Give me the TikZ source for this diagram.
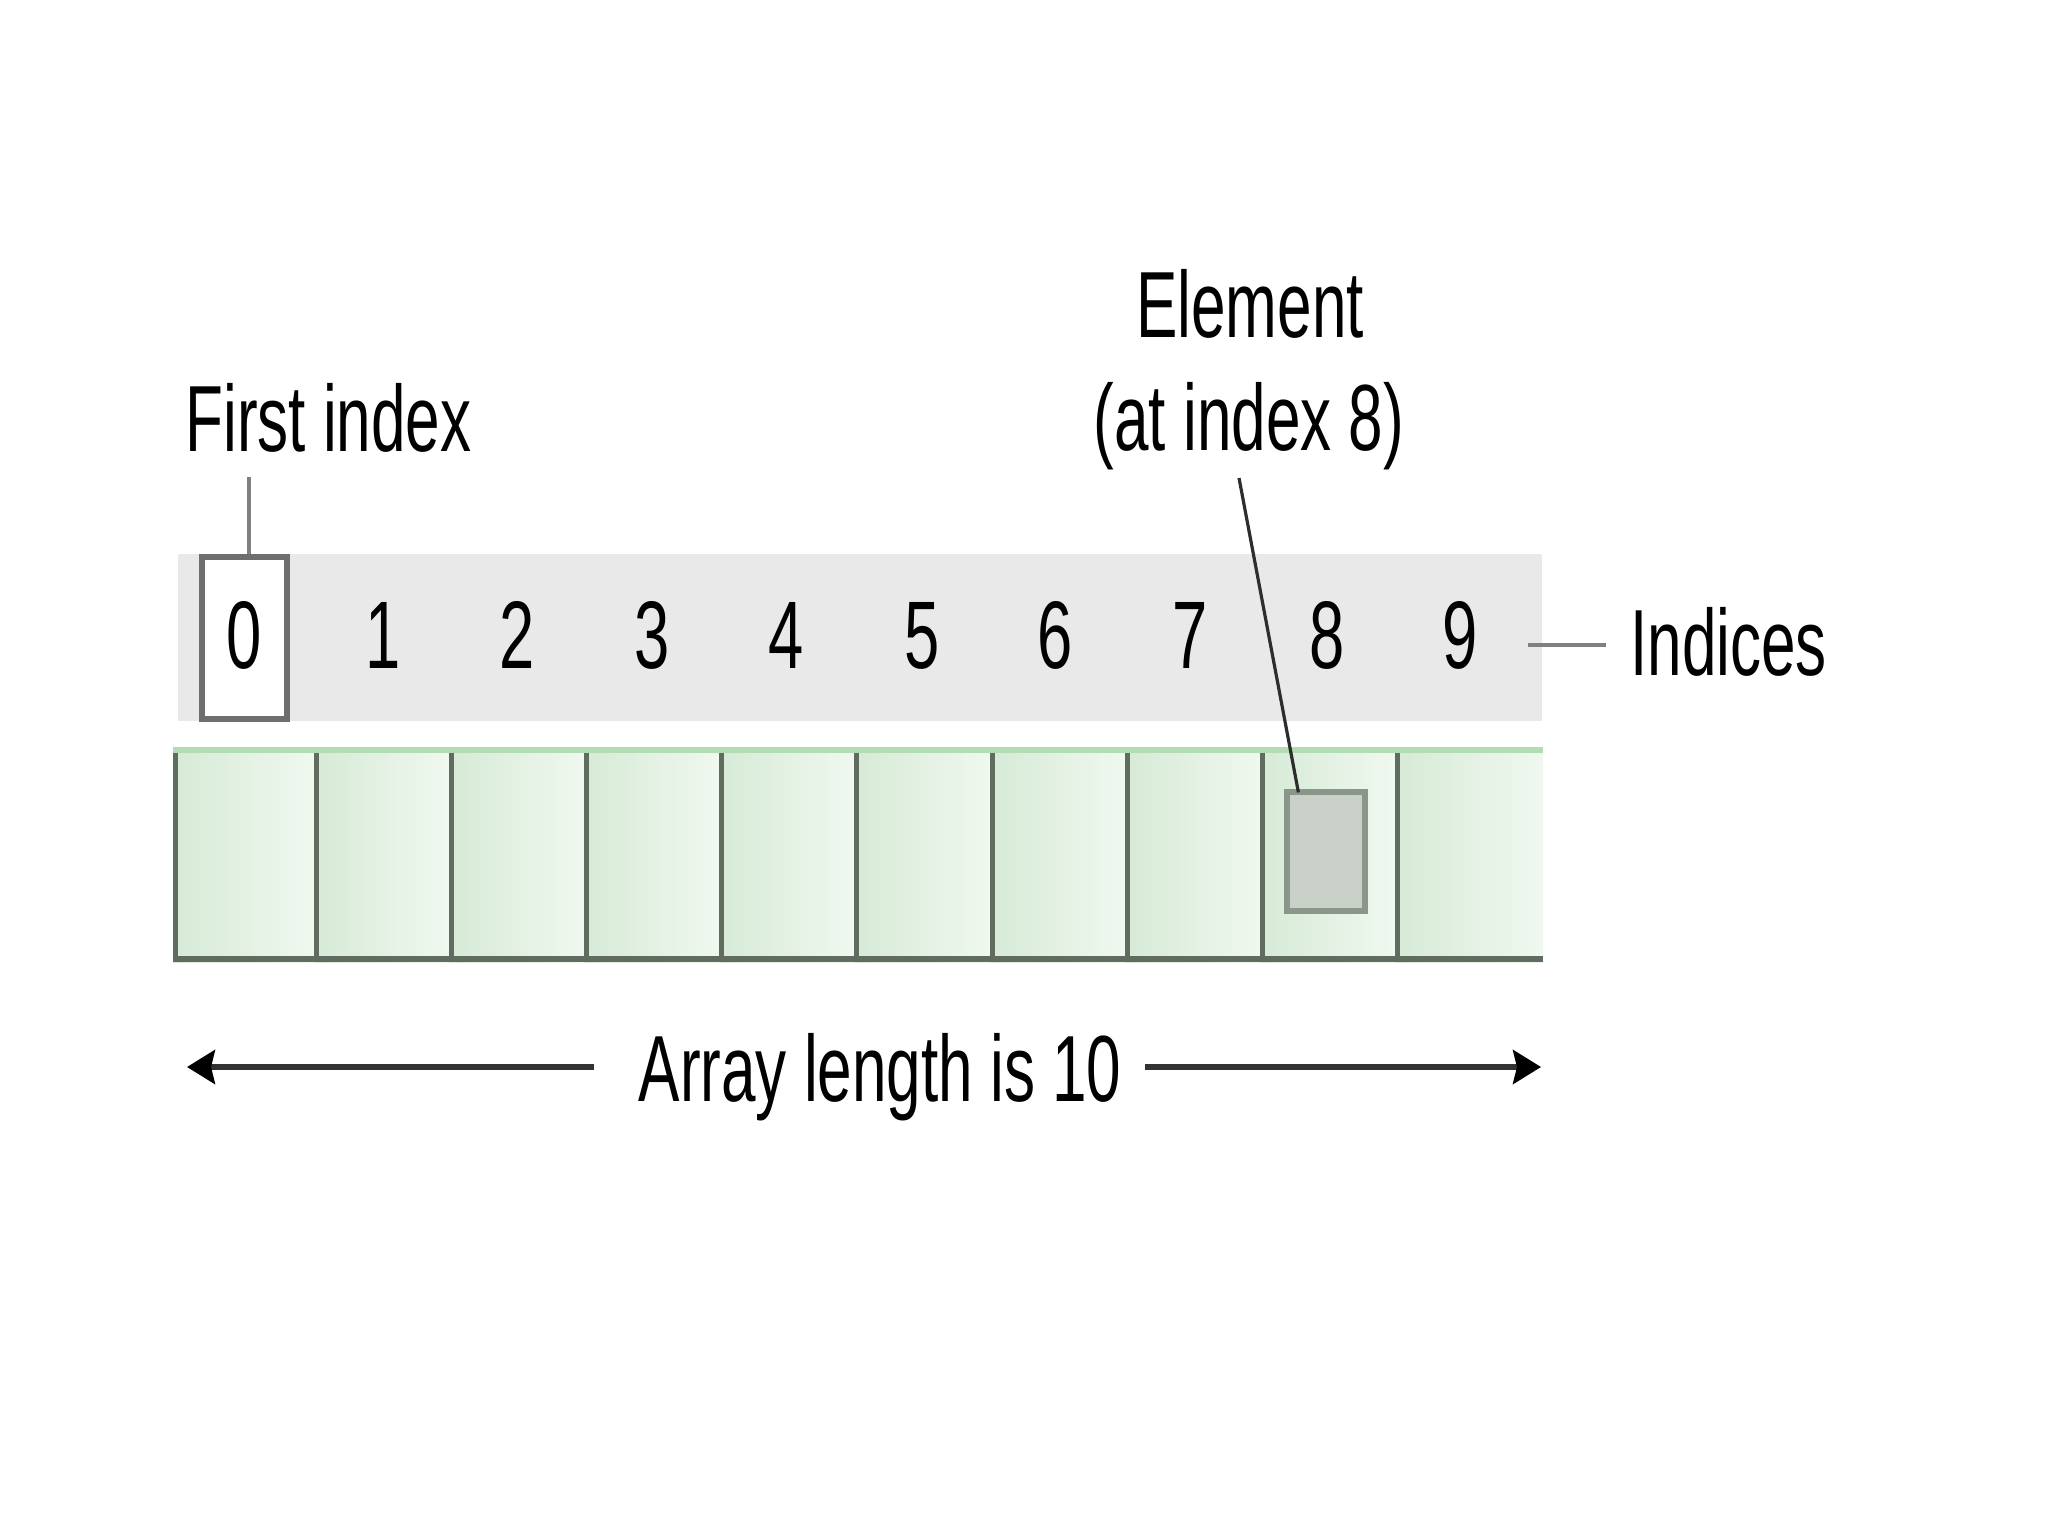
\documentclass[tikz,border=0pt]{standalone}
\usepackage{fontspec}
\setmainfont{Liberation Sans}[FakeStretch=0.66]
\usetikzlibrary{arrows.meta,fit}
\definecolor{bandgray}{RGB}{233,233,233}
\definecolor{zeroedge}{RGB}{110,110,110}
\definecolor{cellL}{RGB}{214,234,214}
\definecolor{cellR}{RGB}{240,248,240}
\definecolor{celltop}{RGB}{178,220,178}
\definecolor{celldiv}{RGB}{95,108,95}
\definecolor{elemfill}{RGB}{200,208,200}
\definecolor{elemedge}{RGB}{138,150,138}
\definecolor{leadgray}{RGB}{128,128,128}
\definecolor{leaddark}{RGB}{45,45,45}
\definecolor{dimline}{RGB}{50,50,50}
\tikzset{
  lbl/.style={font=\fontsize{47pt}{56pt}\selectfont, inner sep=0pt, text=black},
  digit/.style={font=\fontsize{48pt}{56pt}\selectfont, inner sep=0pt, anchor=base, text=black},
  bandbox/.style={fill=bandgray, draw=none, inner sep=0pt},
  zerobox/.style={fill=white, draw=zeroedge, line width=2.6pt, inner sep=0pt},
  cellbox/.style={draw=none, inner sep=0pt, left color=cellL, right color=cellR},
  celltopline/.style={draw=celltop, line width=3.2pt},
  celldivline/.style={draw=celldiv, line width=2.6pt},
  cellbotline/.style={draw=celldiv, line width=3.4pt},
  elembox/.style={fill=elemfill, draw=elemedge, line width=2.6pt, inner sep=0pt},
  graylead/.style={draw=leadgray, line width=2.4pt},
  darklead/.style={draw=leaddark, line width=1.6pt},
  dimarrow/.style={draw=dimline, line width=2.6pt, -{Stealth[length=14pt,width=17pt,inset=2pt,fill=black,color=black]}}
}
\begin{document}
\begin{tikzpicture}[x=0.5pt,y=-0.5pt]
\useasboundingbox (0,0) rectangle (2048,1536);
\fill[white] (0,0) rectangle (2048,1536);

% index band
\node[bandbox, fit={(178,554) (1542,721)}] (band) {};
\node[zerobox, fit={(202,557) (287,719)}] (z0) {};
\foreach \i/\x in {0/244,1/383,2/517,3/652,4/786,5/922,6/1055,7/1190,8/1327,9/1460}
  \node[digit] (d\i) at (\x,668) {\i};

% cells
\foreach \i/\a/\b in {0/173/314,1/314/449,2/449/584,3/584/719,4/719/854,5/854/990,6/990/1125,7/1125/1260,8/1260/1395,9/1395/1543}
  \node[cellbox, fit={(\a,747) (\b,962)}] (c\i) {};
\draw[celltopline] ([yshift=-1.6pt]c0.north west) -- ([yshift=-1.6pt]c9.north east);
\foreach \i in {0,...,9}
  \draw[celldivline] ([xshift=1.3pt,yshift=-3pt]c\i.north west) -- ([xshift=1.3pt]c\i.south west);
\draw[cellbotline] ([yshift=1.7pt]c0.south west) -- ([yshift=1.7pt]c9.south east);

% element box
\node[elembox, fit={(1287,792) (1365,911)}] (elem) {};

% labels
\node[lbl, anchor=base west] (first) at (185,451) {First index};
\node[lbl, anchor=base] (elemA) at (1250,337) {Element};
\node[lbl, anchor=base] (elemB) at (1249,450) {(at index 8)};
\node[lbl, anchor=base west] (ind) at (1630,675) {Indices};
\node[lbl, anchor=base] (len) at (880,1101) {Array length is 10};

% leaders
\coordinate (fiEnd) at (249,477);
\draw[graylead] (fiEnd) -- (fiEnd |- z0.north);
\coordinate (elEnd) at (1239,478);
\draw[darklead] (elEnd) -- ([xshift=7pt,yshift=-1.5pt]elem.north west);
\coordinate (inStart) at (1528,645);
\coordinate (inEnd) at (1606,645);
\draw[graylead] (inStart) -- (inEnd);

% length arrows
\coordinate (lenL1) at (594,1067);
\coordinate (lenL2) at (187,1067);
\coordinate (lenR1) at (1145,1067);
\coordinate (lenR2) at (1541,1067);
\draw[dimarrow] (lenL1) -- (lenL2);
\draw[dimarrow] (lenR1) -- (lenR2);
\end{tikzpicture}
\end{document}
